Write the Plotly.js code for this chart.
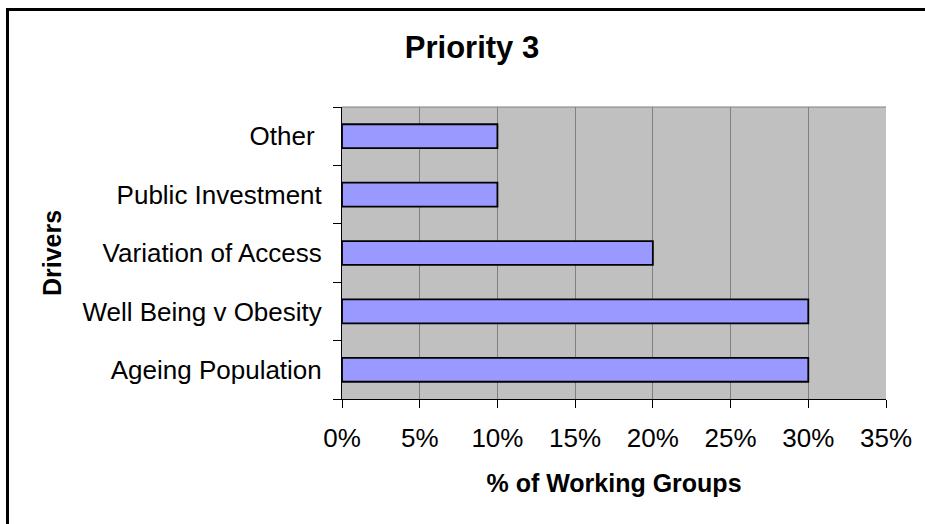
<!DOCTYPE html>
<html>
<head>
<meta charset="utf-8">
<script src="https://cdn.plot.ly/plotly-3.0.1.min.js"></script>
<style>html,body{margin:0;padding:0;background:#fff;}#chart{width:925px;height:524px;}</style>
</head>
<body>
<div id="chart"></div>
<script>
const categories = ["Ageing Population", "Well Being v Obesity", "Variation of Access", "Public Investment", "Other "];
const values = [0.30, 0.30, 0.20, 0.10, 0.10];
const xTickVals = [0, 0.05, 0.10, 0.15, 0.20, 0.25, 0.30, 0.35];
const xTickText = ["0%", "5%", "10%", "15%", "20%", "25%", "30%", "35%"];

const L = 342, R = 39, T = 107, B = 125, W = 925, H = 524;
const pw = W - L - R, ph = H - T - B;
const px = v => (v - L) / pw;
const py = v => (H - B - v) / ph;

const trace = {
  type: "bar",
  orientation: "h",
  y: categories,
  x: values,
  marker: {color: "#9999FF", line: {color: "#000000", width: 1.8}},
  width: 0.41,
  hoverinfo: "x+y"
};

const layout = {
  width: W, height: H,
  margin: {l: L, r: R, t: T, b: B, pad: 0},
  paper_bgcolor: "#ffffff",
  plot_bgcolor: "#C0C0C0",
  showlegend: false,
  font: {family: "Liberation Sans, Arial, sans-serif", color: "#000000"},
  title: {
    text: "<b>Priority 3</b>",
    font: {size: 31, family: "Liberation Sans, Arial, sans-serif", color: "#000"},
    xref: "container", x: 472 / W, xanchor: "center",
    yref: "container", y: 1 - 47 / H, yanchor: "middle"
  },
  xaxis: {
    range: [0, 0.35],
    tickvals: xTickVals,
    ticktext: xTickText,
    tickfont: {size: 26},
    ticks: "outside", ticklen: 8, tickcolor: "#000", tickwidth: 1,
    showgrid: true, gridcolor: "#808080", gridwidth: 1,
    showline: true, linecolor: "#000", linewidth: 1,
    zeroline: false,
    ticklabelstandoff: 8,
    title: {text: "<b>% of Working Groups</b>", font: {size: 25}, standoff: 22},
    fixedrange: true
  },
  yaxis: {
    type: "category",
    categoryorder: "array",
    categoryarray: categories,
    tickfont: {size: 26},
    ticks: "outside", ticklen: 8, tickcolor: "#000", tickwidth: 1,
    tickson: "boundaries",
    showgrid: false,
    showline: true, linecolor: "#000", linewidth: 1,
    zeroline: false,
    ticklabelstandoff: 14,
    title: {text: "<b>Drivers</b>", font: {size: 25}, standoff: 13},
    fixedrange: true
  },
  shapes: [
    {type: "line", xref: "paper", yref: "paper", x0: 0, x1: 1, y0: 1, y1: 1,
     line: {color: "#808080", width: 1}},
    {type: "rect", xref: "paper", yref: "paper",
     x0: px(7.5), x1: px(940), y0: py(9.5), y1: py(540),
     line: {color: "#000000", width: 3}, fillcolor: "rgba(0,0,0,0)"}
  ]
};

Plotly.newPlot("chart", [trace], layout, {displayModeBar: false, staticPlot: true});
</script>
</body>
</html>
